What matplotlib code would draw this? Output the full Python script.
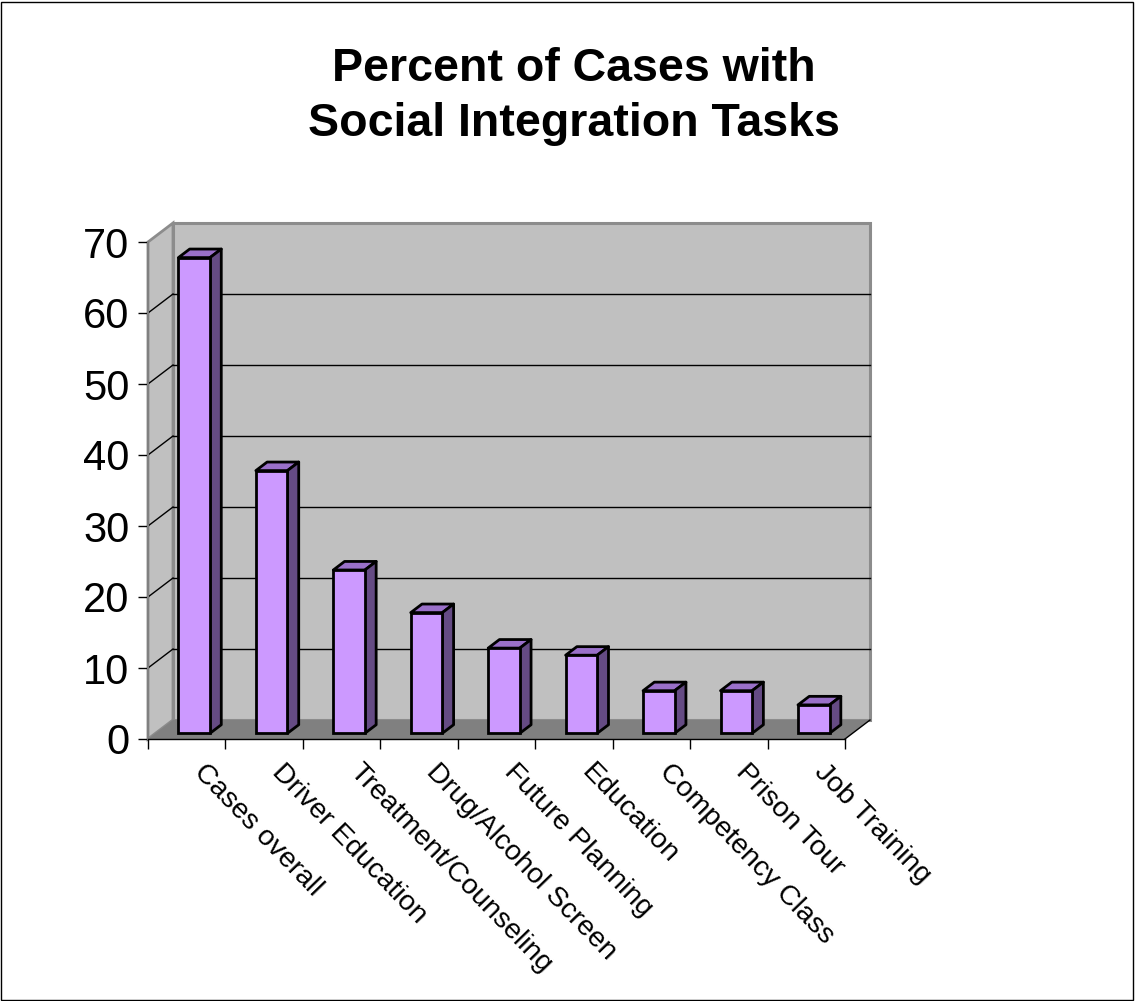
import matplotlib
matplotlib.use("Agg")
import matplotlib.pyplot as plt
from matplotlib.patches import Polygon, Rectangle
from matplotlib.transforms import ScaledTranslation
import numpy as np

categories = ["Cases overall", "Driver Education", "Treatment/Counseling",
              "Drug/Alcohol Screen", "Future Planning", "Education",
              "Competency Class", "Prison Tour", "Job Training"]
values = [67, 37, 23, 17, 12, 11, 6, 6, 4]
yticks = [0, 10, 20, 30, 40, 50, 60, 70]
title = "Percent of Cases with\nSocial Integration Tasks"

plt.rcParams['font.family'] = ['Liberation Sans', 'DejaVu Sans']

W, H = 1135, 1001
fig = plt.figure(figsize=(W / 100, H / 100), dpi=100)
fig.patches.append(Rectangle((0.0005, 0.0005), 0.998, 0.998, transform=fig.transFigure,
                             fill=False, edgecolor='black', linewidth=1))

# front frame of plot area in pixels
x0, x1, yb, yt = 148, 845, 739, 242
ax = fig.add_axes([x0 / W, 1 - yb / H, (x1 - x0) / W, (yb - yt) / H])
n = len(categories)
ymax = yticks[-1]
ax.set_xlim(-0.5, n - 0.5)
ax.set_ylim(0, ymax)
ax.patch.set_visible(False)

# depth offset (px) converted to data units
px_cat = (x1 - x0) / n
px_unit = (yb - yt) / ymax
DX = 25 / px_cat
DY = 19 / px_unit

wall_c = '#C0C0C0'
floor_c = '#808080'
edge_c = '#8C8C8C'

# back wall
ax.add_patch(Polygon([(-0.5 + DX, DY), (n - 0.5 + DX, DY), (n - 0.5 + DX, ymax + DY),
                      (-0.5 + DX, ymax + DY)], closed=True, facecolor=wall_c,
                     edgecolor=edge_c, linewidth=2.2, clip_on=False, zorder=1))
# side wall
ax.add_patch(Polygon([(-0.5, 0), (-0.5, ymax), (-0.5 + DX, ymax + DY), (-0.5 + DX, DY)],
                     closed=True, facecolor=wall_c, edgecolor=edge_c, linewidth=2,
                     clip_on=False, zorder=1))
# gridlines
for v in yticks[1:-1]:
    ax.plot([-0.5 + DX, n - 0.5 + DX], [v + DY, v + DY], color='black', lw=1,
            clip_on=False, zorder=2)
    ax.plot([-0.5, -0.5 + DX], [v, v + DY], color='black', lw=1, clip_on=False, zorder=2)
# floor
ax.add_patch(Polygon([(-0.5, 0), (n - 0.5, 0), (n - 0.5 + DX, DY), (-0.5 + DX, DY)],
                     closed=True, facecolor=floor_c, edgecolor='none', clip_on=False, zorder=3))
ax.plot([n - 0.5, n - 0.5 + DX], [0, DY], color='black', lw=1, clip_on=False, zorder=3)

# bars
t1, t2 = 0.3, 0.75
BW = 0.408
front_c, top_c, side_c = '#CC99FF', '#9A70C9', '#654B84'
xs = np.arange(n)
fx = xs + t1 * DX
fy = t1 * DY
ax.bar(fx, values, width=BW, bottom=fy, color=front_c, edgecolor='black', linewidth=2,
       zorder=5, clip_on=False)
ddx = (t2 - t1) * DX
ddy = (t2 - t1) * DY
for xc, v in zip(fx, values):
    l, r = xc - BW / 2, xc + BW / 2
    top = fy + v
    ax.add_patch(Polygon([(l, top), (r, top), (r + ddx, top + ddy), (l + ddx, top + ddy)],
                         closed=True, facecolor=top_c, edgecolor='black', linewidth=2,
                         clip_on=False, zorder=4, joinstyle='round'))
    ax.add_patch(Polygon([(r, fy), (r + ddx, fy + ddy), (r + ddx, top + ddy), (r, top)],
                         closed=True, facecolor=side_c, edgecolor='black', linewidth=2,
                         clip_on=False, zorder=4, joinstyle='round'))

# axes styling
for s in ['top', 'right']:
    ax.spines[s].set_visible(False)
ax.spines['left'].set_color('#808080')
ax.spines['left'].set_linewidth(1.5)
ax.spines['bottom'].set_color('black')
ax.spines['bottom'].set_linewidth(1)
ax.spines['left'].set_zorder(6)
ax.spines['bottom'].set_zorder(6)

ax.set_yticks(yticks)
ax.set_yticklabels([str(v) for v in yticks], fontsize=30)
ax.tick_params(axis='y', length=7.5, width=1, direction='out', pad=6, colors='black')

ax.set_xticks(np.arange(n + 1) - 0.5)
ax.set_xticklabels([])
ax.tick_params(axis='x', length=7, width=1, direction='out')

lab_off = ScaledTranslation(21 / 100, -20 / 100, fig.dpi_scale_trans)
for i, c in enumerate(categories):
    ax.text(i, 0, c, transform=ax.transData + lab_off, fontsize=20.5, rotation=-46,
            ha='left', va='top', rotation_mode='anchor', clip_on=False)

lines = title.split('\n')
for line, base in zip(lines, [81, 136]):
    fig.text(574 / W, 1 - base / H, line, ha='center', va='baseline', fontsize=33.5,
             fontweight='bold')

fig.savefig('out.png', dpi=100)
